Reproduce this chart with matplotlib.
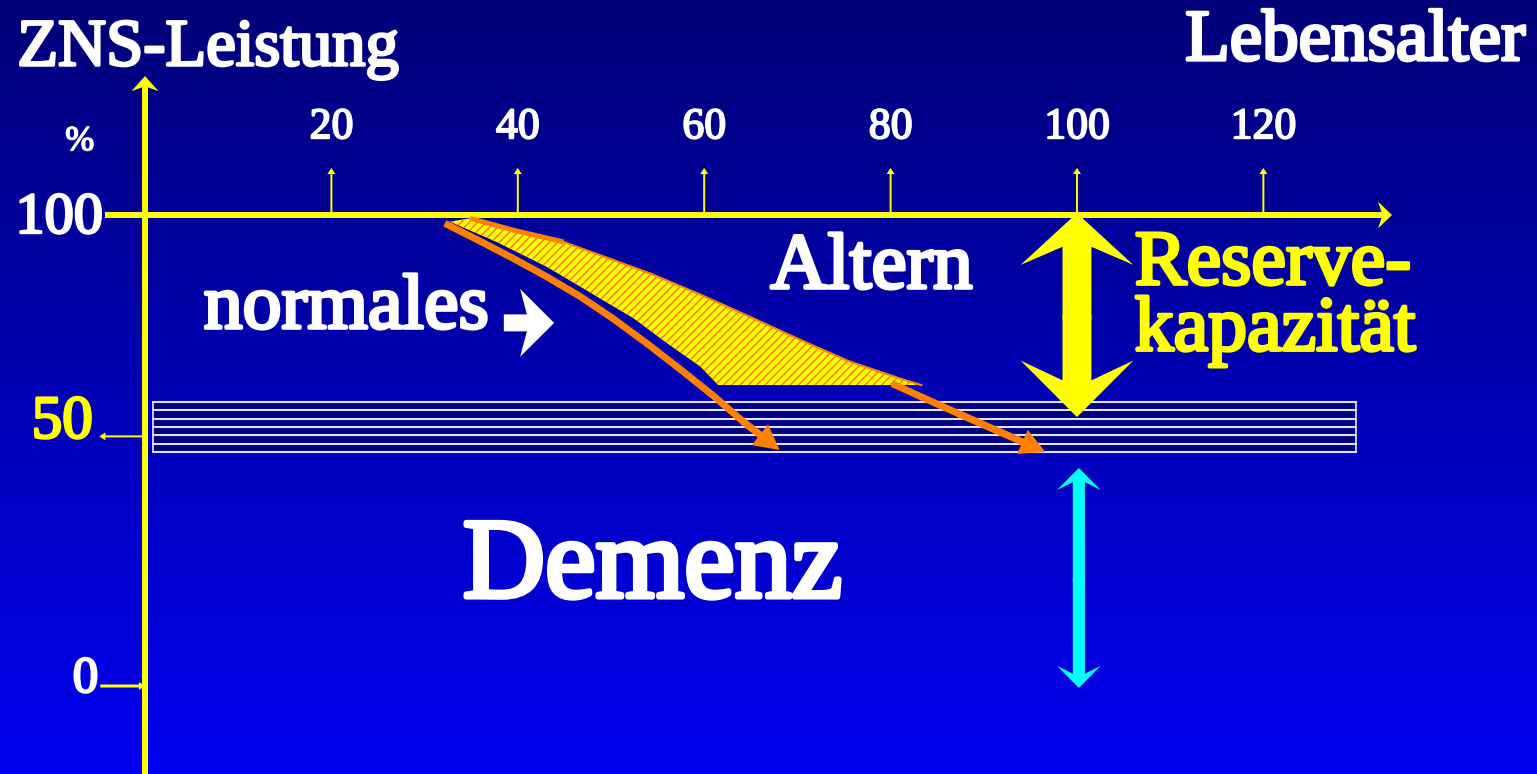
import numpy as np
import matplotlib.pyplot as plt
import matplotlib.patheffects as pe
from matplotlib.colors import LinearSegmentedColormap
from matplotlib.patches import Polygon, Rectangle, FancyArrow

plt.rcParams['font.family'] = ['Liberation Serif', 'DejaVu Serif']
plt.rcParams['hatch.linewidth'] = 1.1

# Achsen
age_ticks = [20, 40, 60, 80, 100, 120]
perf_ticks = [100, 50, 0]

# Demenz-Verlauf (linker oranger Pfeil)
dem_age = [32.5, 35.9, 39.5, 43.1, 46.7, 50.3, 53.8, 57.4, 61.0, 64.2, 68.1]
dem_perf = [97.9, 94.5, 90.8, 86.9, 82.7, 77.9, 72.8, 67.3, 61.6, 56.1, 50.1]

# schraffierte Flaeche (oberer und unterer Rand)
res_top_age = [34.9, 39.5, 44.9, 48.8, 54.2, 59.6, 64.9, 70.3, 75.6, 81.0, 83.3]
res_top_perf = [99.3, 96.8, 94.3, 91.5, 87.6, 83.1, 78.4, 73.5, 68.9, 65.3, 63.9]
res_low_age = [61.5, 59.6, 56.0, 52.4, 48.8, 46.7, 43.1, 37.7, 32.7]
res_low_perf = [63.9, 67.8, 72.8, 78.1, 82.3, 84.8, 89.0, 94.3, 98.6]

# Fortsetzung nach rechts (zweiter oranger Pfeil)
late_age = [80.5, 87.2, 96.6]
late_perf = [63.9, 57.9, 49.7]

# Schwellenband
band_age = [0.9, 129.9]
band_perf = [49.7, 60.3]

# Reservekapazitaet (gelb) und Demenz-Bereich (cyan)
reserve_perf = [100.4, 57.1]
demenz_perf = [46.3, -0.4]

yel = '#FFFF00'
orange = '#FF8000'
cyan = '#00FFFF'


def label(x, y, s, size, color='white', ha='left', **kw):
    # Liberation Serif nur normal vorhanden -> mit Kontur fetter machen
    t = ax.text(x, y, s, ha=ha, va='baseline', fontsize=size, color=color, zorder=7, **kw)
    t.set_path_effects([pe.withStroke(linewidth=size * 0.045, foreground=color)])
    return t


fig = plt.figure(figsize=(15.37, 7.74), dpi=100)
ax = fig.add_axes([0, 0, 1, 1])
x0, x1 = -15.56, 149.36
y0, y1 = -18.68, 145.65
ax.set_xlim(x0, x1)
ax.set_ylim(y0, y1)
ax.axis('off')

# Hintergrund-Verlauf
grad = np.linspace(0, 1, 256).reshape(-1, 1)
cmap = LinearSegmentedColormap.from_list('bg', ['#0000F0', '#000078'])
ax.imshow(grad, extent=[x0, x1, y0, y1], origin='lower', aspect='auto', cmap=cmap, zorder=0)

# Achsen mit Pfeilen
ax.add_patch(FancyArrow(0, y0, 0, 129.5 - y0, width=0.64, head_width=2.9, head_length=3.2,
                        overhang=0.25, length_includes_head=True, color=yel, lw=0, zorder=3))
ax.add_patch(FancyArrow(-4.3, 100, 138.1, 0, width=1.27, head_width=5.7, head_length=1.5,
                        overhang=0.25, length_includes_head=True, color=yel, lw=0, zorder=3))

# Ticks Lebensalter
for t in age_ticks:
    ax.add_patch(FancyArrow(t, 100, 0, 10, width=0.21, head_width=0.86, head_length=1.3,
                            length_includes_head=True, color=yel, lw=0, zorder=3))
    label(t, 116.3, str(t), 31.5, ha='center')

# Beschriftung ZNS-Leistung
label(-7, 113.8, '%', 25, ha='center')
label(-4.5, 96.2, str(perf_ticks[0]), 42, ha='right')
label(-5.6, 52.7, str(perf_ticks[1]), 44, color=yel, ha='right')
ax.add_patch(FancyArrow(0, 53, -4.9, 0, width=0.42, head_width=1.7, head_length=0.65,
                        length_includes_head=True, color=yel, lw=0, zorder=3))
label(-5.0, -1.3, str(perf_ticks[2]), 37, ha='right')
ax.add_patch(FancyArrow(-4.8, 0, 4.8, 0, width=0.64, head_width=1.7, head_length=0.65,
                        length_includes_head=True, color=yel, lw=0, zorder=3))

label(-13.7, 131.8, 'ZNS-Leistung', 48)
label(148.1, 132.9, 'Lebensalter', 52.5, ha='right')

# Schwellenband
ax.add_patch(Rectangle((band_age[0], band_perf[0]), band_age[1] - band_age[0],
                       band_perf[1] - band_perf[0], facecolor='#000080',
                       edgecolor='#E8E8FF', lw=1.2, zorder=2))
for yv in np.linspace(band_perf[0], band_perf[1], 7):
    ax.plot(band_age, [yv, yv], color='#E0E0FF', lw=1.5, zorder=2)

# schraffierte Flaeche
poly = np.column_stack([res_top_age + res_low_age, res_top_perf + res_low_perf])
ax.add_patch(Polygon(poly, closed=True, facecolor=yel, edgecolor='none', zorder=4))
ax.add_patch(Polygon(poly, closed=True, facecolor='none', edgecolor=orange,
                     hatch='////', lw=0, zorder=4))
ax.plot(res_top_age[:3], res_top_perf[:3], color=orange, lw=3.5, solid_capstyle='butt', zorder=5)
ax.plot(res_top_age, res_top_perf, color=orange, lw=1.5, zorder=5)

# orange Pfeile
arrow_kw = dict(arrowstyle='simple,head_length=0.9,head_width=0.95,tail_width=0.26',
                color=orange, lw=0, shrinkA=0, shrinkB=0, mutation_scale=20)
ax.plot(dem_age[:-1], dem_perf[:-1], color=orange, lw=5, solid_joinstyle='round', zorder=5)
ax.annotate('', xy=(dem_age[-1], dem_perf[-1]), xytext=(dem_age[-2], dem_perf[-2]),
            arrowprops=arrow_kw, zorder=5)
ax.plot(late_age[:-1], late_perf[:-1], color=orange, lw=5, zorder=5)
ax.annotate('', xy=(late_age[-1], late_perf[-1]), xytext=(late_age[-2], late_perf[-2]),
            arrowprops=arrow_kw, zorder=5)

# Doppelpfeil Reservekapazitaet
mid = sum(reserve_perf) / 2
ax.add_patch(FancyArrow(100, mid - 1, 0, reserve_perf[0] - mid + 1, width=3.1, head_width=12.1,
                        head_length=11, overhang=0.35, length_includes_head=True,
                        color=yel, lw=0, zorder=6))
ax.add_patch(FancyArrow(100, mid, 0, reserve_perf[1] - mid, width=3.1, head_width=12.1,
                        head_length=12, overhang=0.35, length_includes_head=True,
                        color=yel, lw=0, zorder=6))

# Doppelpfeil Demenz
mid = sum(demenz_perf) / 2
ax.add_patch(FancyArrow(100.2, mid - 1, 0, demenz_perf[0] - mid + 1, width=1.3, head_width=4.7,
                        head_length=4.7, overhang=0.36, length_includes_head=True,
                        color=cyan, lw=0, zorder=6))
ax.add_patch(FancyArrow(100.2, mid, 0, demenz_perf[1] - mid, width=1.3, head_width=4.7,
                        head_length=4.7, overhang=0.36, length_includes_head=True,
                        color=cyan, lw=0, zorder=6))

# weisser Pfeil
ax.add_patch(FancyArrow(38.5, 77.1, 5.4, 0, width=3.6, head_width=14.4, head_length=3.65,
                        overhang=0.2, length_includes_head=True, color='white', lw=0, zorder=6))

# Texte
label(67.1, 84.5, 'Altern', 57)
label(6.3, 76.0, 'normales', 56)
label(106.2, 71.3, 'Reserve-\nkapazität', 56, color=yel, linespacing=0.9)
label(34.1, 18.9, 'Demenz', 82)

fig.savefig('out.png', dpi=100)
